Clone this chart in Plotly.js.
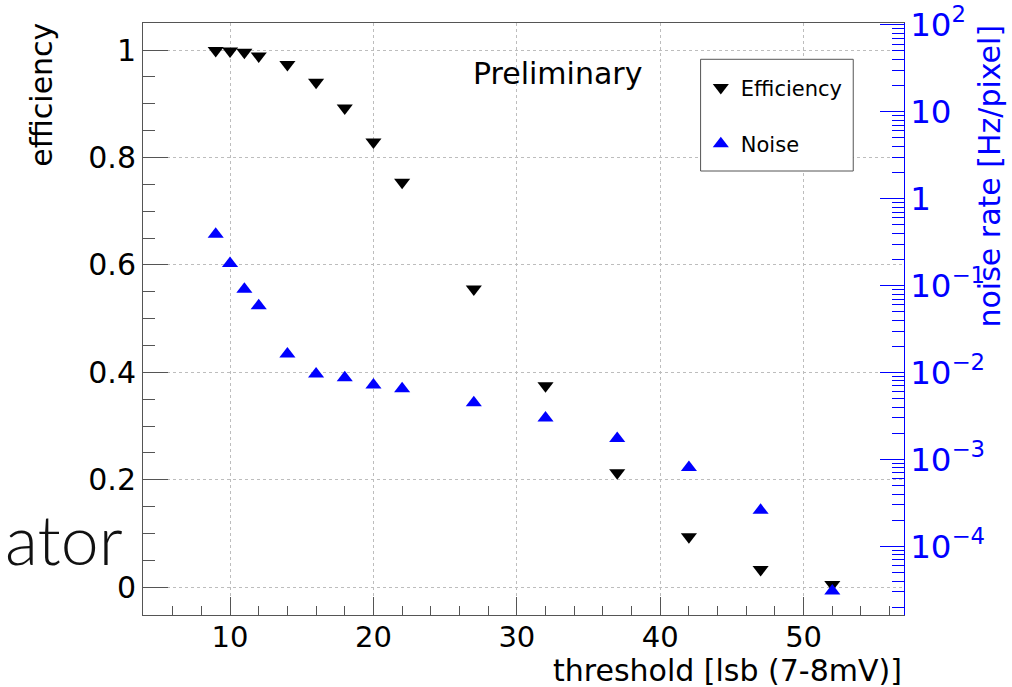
<!DOCTYPE html>
<html><head><meta charset="utf-8">
<script src="https://cdn.plot.ly/plotly-3.0.1.min.js"></script>
<style>html,body{margin:0;padding:0;background:#fff}#chart{width:1012px;height:687px}</style>
</head><body><div id="chart"></div>
<script>
// threshold [lsb]
const threshold = [9, 10, 11, 12, 14, 16, 18, 20, 22, 27, 32, 37, 42, 47, 52];
// efficiency (left axis)
const efficiency = [0.999, 0.998, 0.996, 0.989, 0.973, 0.940, 0.892, 0.829, 0.754, 0.555, 0.375, 0.213, 0.094, 0.033, 0.005];
// noise rate [Hz/pixel] (right log axis)
const noiseRate = [0.39, 0.18, 0.091, 0.0585, 0.0163, 0.0096, 0.0087, 0.0072, 0.0065, 0.0045, 0.0030, 0.00174, 0.00081, 0.00026, 0.0000306];

const FONT = 'DejaVu Sans';
const BLUE = '#0000ff';
const FRAME = '#555555';

const traces = [
  {
    x: threshold, y: efficiency, type: 'scatter', mode: 'markers', name: 'Efficiency',
    legendgroup: 'eff',
    marker: {symbol: 'triangle-down', size: 14, color: '#000000'},
    xaxis: 'x', yaxis: 'y'
  },
  {
    x: threshold, y: noiseRate, type: 'scatter', mode: 'markers', name: 'Noise',
    legendgroup: 'noise',
    marker: {symbol: 'triangle-up', size: 14, color: BLUE},
    xaxis: 'x', yaxis: 'y2'
  }
];

const layout = {
  width: 1012, height: 687,
  margin: {l: 143, r: 108, t: 23, b: 72, pad: 0},
  paper_bgcolor: '#ffffff', plot_bgcolor: '#ffffff',
  font: {family: FONT, size: 30, color: '#000'},
  showlegend: true,
  legend: {
    x: 0.733, xanchor: 'left', y: 0.925, yanchor: 'top',
    bgcolor: 'rgba(0,0,0,0)', borderwidth: 0,
    font: {family: FONT, size: 21, color: '#000'},
    traceorder: 'grouped', tracegroupgap: 26
  },
  xaxis: {
    range: [3.93, 57.0], tick0: 0, dtick: 10,
    ticks: 'inside', ticklen: 18, tickwidth: 1, tickcolor: FRAME,
    showline: true, mirror: true, linecolor: FRAME, linewidth: 1,
    showgrid: true, gridcolor: '#bdbdbd', griddash: 'dot', gridwidth: 1,
    zeroline: false, ticklabelstandoff: -4,
    tickfont: {family: FONT, size: 29, color: '#000'},
    minor: {dtick: 2, tick0: 0, ticks: 'inside', ticklen: 9, tickwidth: 1, tickcolor: FRAME, showgrid: false}
  },
  yaxis: {
    range: [-0.0516, 1.0503], tick0: 0, dtick: 0.2,
    ticks: 'inside', ticklen: 25, tickwidth: 1, tickcolor: FRAME,
    showline: true, mirror: false, linecolor: FRAME, linewidth: 1,
    showgrid: true, gridcolor: '#bdbdbd', griddash: 'dot', gridwidth: 1,
    zeroline: false,
    tickfont: {family: FONT, size: 30, color: '#000'},
    minor: {dtick: 0.05, tick0: 0, ticks: 'inside', ticklen: 12, tickwidth: 1, tickcolor: FRAME, showgrid: false}
  },
  yaxis2: {
    overlaying: 'y', side: 'right', type: 'log',
    range: [-4.789, 2.02], tick0: 0, dtick: 1, exponentformat: 'power',
    ticks: 'inside', ticklen: 24, tickwidth: 1, tickcolor: BLUE,
    showline: true, linecolor: BLUE, linewidth: 1,
    showgrid: false, zeroline: false, ticklabeloverflow: 'allow',
    tickfont: {family: FONT, size: 26, color: BLUE},
    minor: {dtick: 'D1', ticks: 'inside', ticklen: 12, tickwidth: 1, tickcolor: BLUE, showgrid: false}
  },
  shapes: [
    {type: 'rect', xref: 'paper', yref: 'paper', x0: 0.7327, x1: 0.9333, y0: 0.750, y1: 0.9387,
     line: {color: FRAME, width: 1}, fillcolor: '#ffffff', layer: 'above'}
  ],
  annotations: [
    {text: 'Preliminary', xref: 'paper', yref: 'paper', x: 0.4316, y: 0.9155,
     xanchor: 'left', yanchor: 'middle', showarrow: false,
     font: {family: FONT, size: 30, color: '#000'}},
    {text: 'threshold [lsb (7-8mV)]', xref: 'paper', yref: 'paper', x: 1.0, y: -0.094,
     xanchor: 'right', yanchor: 'middle', showarrow: false,
     font: {family: FONT, size: 30, color: '#000'}},
    {text: 'efficiency', xref: 'paper', yref: 'paper', x: -0.1327, y: 1.004,
     xanchor: 'center', yanchor: 'top', textangle: -90, showarrow: false,
     font: {family: FONT, size: 30, color: '#000'}},
    {text: 'noise rate [Hz/pixel]', xref: 'paper', yref: 'paper', x: 1.1117, y: 1.0,
     xanchor: 'center', yanchor: 'top', textangle: -90, showarrow: false,
     font: {family: FONT, size: 30, color: BLUE}},
    {text: 'ator', xref: 'paper', yref: 'paper', x: -0.0237, y: 0.13,
     xanchor: 'right', yanchor: 'middle', showarrow: false,
     font: {family: 'Lato', size: 68, color: '#111', weight: 300}}
  ]
};

Plotly.newPlot('chart', traces, layout, {displayModeBar: false, staticPlot: true});
</script>
</body></html>
